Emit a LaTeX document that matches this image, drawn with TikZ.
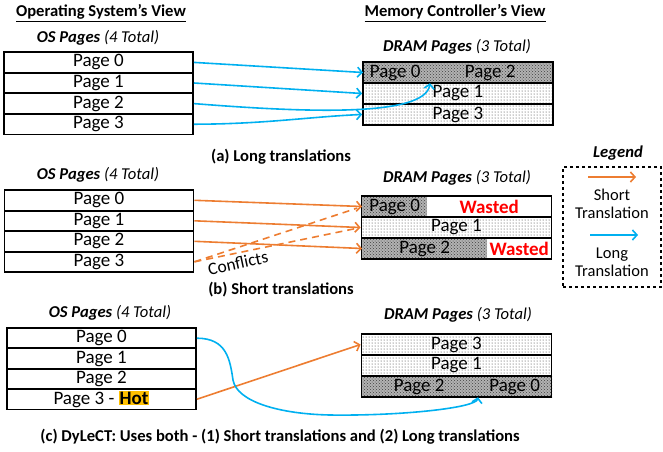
\documentclass[tikz,border=0pt]{standalone}
\usepackage{fontspec}
\setmainfont{Carlito}
\usepackage{tikz}
\usetikzlibrary{patterns,arrows.meta}

\definecolor{longblue}{HTML}{00B0F0}
\definecolor{shortorange}{HTML}{ED7D31}
\definecolor{hotyellow}{HTML}{FFC000}

\newcommand{\pagefont}{\fontsize{19}{20}\selectfont}
\newcommand{\labelfont}{\fontsize{16.6}{19}\selectfont}

\tikzset{
    ospage/.style={draw, line width=1.9pt, minimum width=189pt, minimum height=20.5pt, inner sep=0pt, font=\pagefont},
    dramrow/.style={draw, line width=1.9pt, minimum width=190pt, minimum height=21pt, inner sep=0pt, font=\pagefont},
    cell/.style={minimum height=21pt, inner sep=0pt, anchor=west, font=\pagefont},
    lightdots/.style={pattern=dots, pattern color=black!85},
    darkdots/.style={preaction={fill=black!30}, pattern=crosshatch dots, pattern color=black!75},
    longtr/.style={draw=longblue, line width=1.6pt, -{Straight Barb[length=4.5pt,width=10pt]}},
    shorttr/.style={draw=shortorange, line width=1.6pt, -{Straight Barb[length=4.5pt,width=10pt]}},
    heading/.style={font=\labelfont},
}

\begin{document}
\begin{tikzpicture}[x=1pt, y=-1pt]
        \useasboundingbox (0,0) rectangle (663,451);

        % titles of the two views
        \node[heading] (osTitle) at (101,13) {\underline{\textbf{Operating System’s View}}};
        \node[heading] (mcTitle) at (455,13) {\underline{\textbf{Memory Controller’s View}}};

        % (a) long translations
        \node[heading] (osLblA) at (98,38) {\textbf{\textit{OS Pages}} \textit{(4 Total)}};
        \node[ospage] (osA0) at (98.5,62.4) {Page 0};
        \node[ospage] (osA1) at (98.5,83) {Page 1};
        \node[ospage] (osA2) at (98.5,103.6) {Page 2};
        \node[ospage] (osA3) at (98.5,124.2) {Page 3};

        \node[heading] (dramLblA) at (457,47) {\textbf{\textit{DRAM Pages}} \textit{(3 Total)}};
        \node[cell, darkdots, minimum width=64pt] (dramA0a) at (363,72.5) {Page 0};
        \node[cell, darkdots, minimum width=126pt] (dramA0b) at (427,72.5) {Page 2};
        \node[dramrow] (dramA0) at (458,72.5) {};
        \node[dramrow, lightdots] (dramA1) at (458,93.5) {Page 1};
        \node[dramrow, lightdots] (dramA2) at (458,114.5) {Page 3};

        \coordinate (tipA) at ([xshift=3pt]dramA0b.south west);
        \draw[longtr] (osA0.east) -- (dramA0a.west);
        \draw[longtr] (osA1.east) -- (dramA1.west);
        \draw[longtr] (osA2.east) .. controls (300,112) and (425,118) .. (tipA);
        \draw[longtr] (osA3.east) .. controls +(70,0) and +(-50,2) .. (dramA2.west);

        \node[heading] (capA) at (281,157) {\textbf{(a) Long translations}};

        % (b) short translations
        \node[heading] (osLblB) at (98,175) {\textbf{\textit{OS Pages}} \textit{(4 Total)}};
        \node[ospage] (osB0) at (99,200.3) {Page 0};
        \node[ospage] (osB1) at (99,220.8) {Page 1};
        \node[ospage] (osB2) at (99,241.3) {Page 2};
        \node[ospage] (osB3) at (99,261.8) {Page 3};

        \node[heading] (dramLblB) at (457,178) {\textbf{\textit{DRAM Pages}} \textit{(3 Total)}};
        \node[cell, darkdots, minimum width=65pt] (dramB0a) at (362,206.5) {Page 0};
        \node[cell, minimum width=124pt] (dramB0b) at (427,206.5) {\textcolor{red}{\textbf{Wasted}}};
        \node[dramrow] (dramB0) at (456.5,206.5) {};
        \node[dramrow, lightdots] (dramB1) at (456.5,227.5) {Page 1};
        \node[cell, darkdots, minimum width=125pt] (dramB2a) at (362,248.5) {Page 2};
        \node[cell, minimum width=64pt] (dramB2b) at (487,248.5) {\textcolor{red}{\textbf{Wasted}}};
        \node[dramrow] (dramB2) at (456.5,248.5) {};

        \draw[shorttr] (osB0.east) -- (dramB0a.west);
        \draw[shorttr] (osB1.east) -- (dramB1.west);
        \draw[shorttr] (osB2.east) -- (dramB2a.west);
        \draw[draw=shortorange, line width=1.6pt, dash pattern=on 7pt off 5pt, shorten >=5pt] (osB3.east) -- (dramB0a.west);
        \draw[draw=shortorange, line width=1.6pt, dash pattern=on 7pt off 5pt, shorten >=5pt] (osB3.east) -- (dramB1.west);
        \node[font=\fontsize{17.5}{20}\selectfont, rotate=12] (conflictsLbl) at (238,263) {Conflicts};

        \node[heading] (capB) at (281,290) {\textbf{(b) Short translations}};

        % legend
        \node[heading] (legendLbl) at (618,153) {\textbf{\textit{Legend}}};
        \node[draw, dashed, line width=1.1pt, minimum width=98pt, minimum height=120pt] (legendBox) at (612,227) {};
        \coordinate (shortFrom) at (588,177);
        \coordinate (shortTo) at (636,177);
        \coordinate (longFrom) at (590,235);
        \coordinate (longTo) at (638,235);
        \draw[shorttr] (shortFrom) -- (shortTo);
        \draw[longtr] (longFrom) -- (longTo);
        \node[font=\fontsize{16.5}{18}\selectfont, align=center] (shortLbl) at (612,204) {Short\\Translation};
        \node[font=\fontsize{16.5}{18}\selectfont, align=center] (longLbl) at (612,262) {Long\\Translation};

        % (c) DyLeCT
        \node[heading] (osLblC) at (110,313) {\textbf{\textit{OS Pages}} \textit{(4 Total)}};
        \node[ospage] (osC0) at (101.5,338.2) {Page 0};
        \node[ospage] (osC1) at (101.5,358.6) {Page 1};
        \node[ospage] (osC2) at (101.5,379) {Page 2};
        \node[ospage] (osC3) at (101.5,399.2) {Page 3 - {\setlength{\fboxsep}{1pt}\colorbox{hotyellow}{\textbf{Hot}}}};

        \node[heading] (dramLblC) at (458,315) {\textbf{\textit{DRAM Pages}} \textit{(3 Total)}};
        \node[dramrow, lightdots] (dramC0) at (456.5,344.5) {Page 3};
        \node[dramrow, lightdots] (dramC1) at (456.5,365.5) {Page 1};
        \node[cell, darkdots, minimum width=116pt] (dramC2a) at (361,386.5) {Page 2};
        \node[cell, darkdots, minimum width=75pt] (dramC2b) at (477,386.5) {Page 0};
        \node[dramrow] (dramC2) at (456.5,386.5) {};

        \coordinate (tipC) at ([xshift=1pt]dramC2b.south west);
        \draw[shorttr] (osC3.east) -- (dramC0.west);
        \draw[longtr] (osC0.east) .. controls +(30,0) and (230,360) .. (233,380)
            .. controls (237,402) and (280,414) .. (330,415)
            .. controls (400,416) and (476,408) .. (tipC);

        \node[heading] (capC) at (280,437) {\textbf{(c) DyLeCT: Uses both - (1) Short translations and (2) Long translations}};
    \end{tikzpicture}
\end{document}
